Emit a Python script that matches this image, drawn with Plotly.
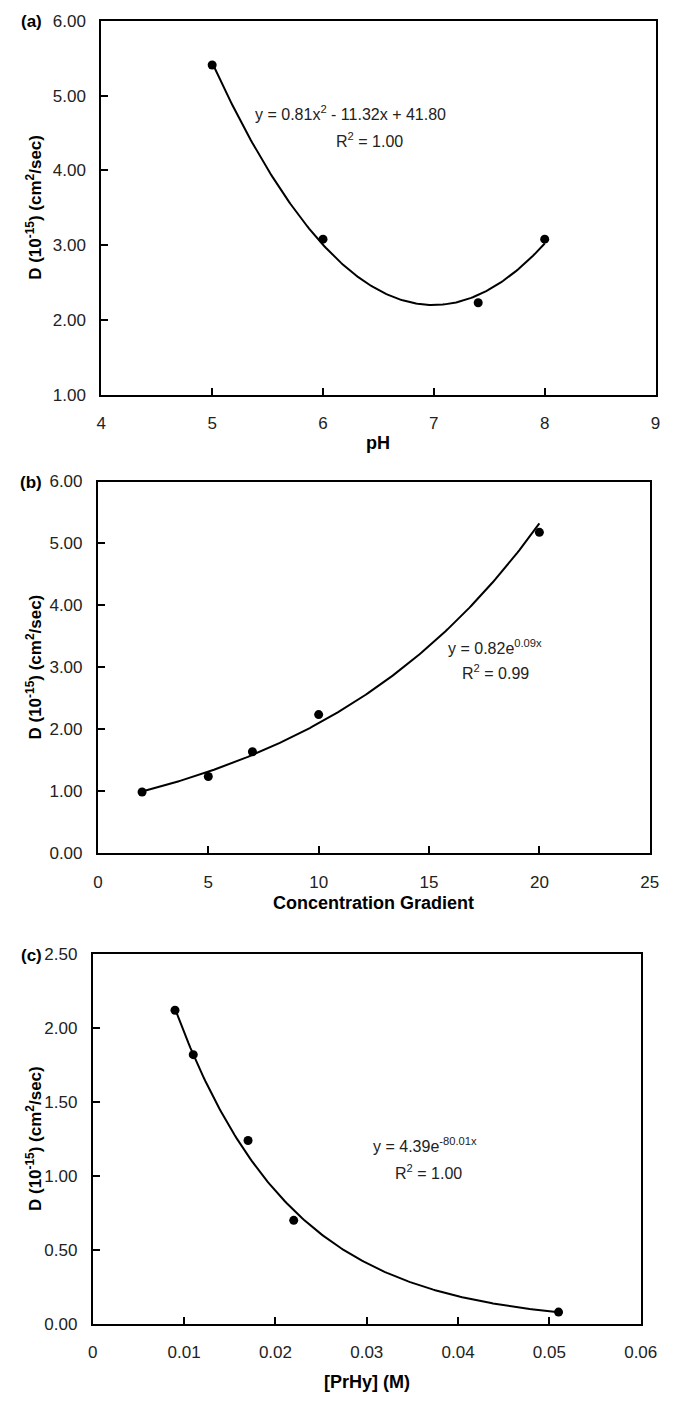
import numpy as np
import plotly.graph_objects as go

W, H = 689, 1403

# ---------------- data ----------------
ph_x = [5, 6, 7.4, 8]
ph_y = [5.41, 3.08, 2.23, 3.08]

cg_x = [2, 5, 7, 10, 20]
cg_y = [0.99, 1.24, 1.64, 2.24, 5.18]

pr_x = [0.009, 0.011, 0.017, 0.022, 0.051]
pr_y = [2.12, 1.82, 1.24, 0.70, 0.08]

a_xticks = [4, 5, 6, 7, 8, 9]
a_yticks = [1, 2, 3, 4, 5, 6]
b_xticks = [0, 5, 10, 15, 20, 25]
b_yticks = [0, 1, 2, 3, 4, 5, 6]
c_xticks = [0, 0.01, 0.02, 0.03, 0.04, 0.05, 0.06]
c_xlabels = ["0", "0.01", "0.02", "0.03", "0.04", "0.05", "0.06"]
c_yticks = [0, 0.5, 1.0, 1.5, 2.0, 2.5]

eq_a = ["y = 0.81x<sup>2</sup> - 11.32x + 41.80", "R<sup>2</sup> = 1.00"]
eq_b = ["y = 0.82e<sup>0.09x</sup>", "R<sup>2</sup> = 0.99"]
eq_c = ["y = 4.39e<sup>-80.01x</sup>", "R<sup>2</sup> = 1.00"]

# ---------------- trendlines (fitted from data, like Excel) ----------------
pa = np.polyfit(ph_x, ph_y, 2)
xa = np.linspace(min(ph_x), max(ph_x), 200)
ya = np.polyval(pa, xa)

pb = np.polyfit(cg_x, np.log(cg_y), 1)
xb = np.linspace(min(cg_x), max(cg_x), 200)
yb = np.exp(np.polyval(pb, xb))

pc = np.polyfit(pr_x, np.log(pr_y), 1)
xc = np.linspace(min(pr_x), max(pr_x), 200)
yc = np.exp(np.polyval(pc, xc))

FONT = "Liberation Sans, Arial, sans-serif"

fig = go.Figure()

def add_panel(i, px, py, cx, cy):
    xa_ = "x" if i == 1 else f"x{i}"
    ya_ = "y" if i == 1 else f"y{i}"
    fig.add_trace(go.Scatter(x=cx, y=cy, mode="lines", xaxis=xa_, yaxis=ya_,
                             line=dict(color="black", width=2), hoverinfo="skip"))
    fig.add_trace(go.Scatter(x=px, y=py, mode="markers", xaxis=xa_, yaxis=ya_,
                             marker=dict(color="black", size=9)))

add_panel(1, ph_x, ph_y, xa, ya)
add_panel(2, cg_x, cg_y, xb, yb)
add_panel(3, pr_x, pr_y, xc, yc)

# panel boxes in pixels: left, right, top, bottom
boxes = [(99.5, 672, 12, 391), (96, 666, 479, 856), (90.7, 656.7, 958, 1333)]

def xdom(b):
    return [b[0] / W, b[1] / W]

def ydom(b):
    return [1 - b[3] / H, 1 - b[2] / H]

axis_common = dict(showline=True, linecolor="black", linewidth=2, mirror=True,
                   ticks="inside", ticklen=7, tickwidth=2, tickcolor="black",
                   showgrid=False, zeroline=False,
                   tickfont=dict(family=FONT, size=17, color="#222"))

layout = dict(
    width=W, height=H, margin=dict(l=0, r=0, t=0, b=0),
    paper_bgcolor="white", plot_bgcolor="white", showlegend=False,
    font=dict(family=FONT, color="black"),
)

specs = [
    (a_xticks, [str(v) for v in a_xticks], [4, 9], a_yticks, [1, 6], "pH"),
    (b_xticks, [str(v) for v in b_xticks], [0, 25], b_yticks, [0, 6], "Concentration Gradient"),
    (c_xticks, c_xlabels, [0, 0.06], c_yticks, [0, 2.5], "[PrHy] (M)"),
]

for i, (b, sp) in enumerate(zip(boxes, specs), start=1):
    xt, xl, xr, yt, yr, xtitle = sp
    xk = "xaxis" if i == 1 else f"xaxis{i}"
    yk = "yaxis" if i == 1 else f"yaxis{i}"
    layout[xk] = dict(axis_common, domain=xdom(b), range=xr, tickvals=xt, ticktext=xl,
                      anchor="y" if i == 1 else f"y{i}", ticklabelstandoff=12)
    layout[yk] = dict(axis_common, domain=ydom(b), range=yr, tickvals=yt,
                      tickformat=".2f", anchor="x" if i == 1 else f"x{i}",
                      ticklabelstandoff=10)

fig.update_layout(**layout)

annotations = []
labels = ["(a)", "(b)", "(c)"]
title_y = [440, 906, 1392]
for i, b in enumerate(boxes):
    annotations.append(dict(text=f"<b>{labels[i]}</b>", x=27 / W, y=1 - (b[2] + 1) / H,
                            xref="paper", yref="paper", showarrow=False,
                            font=dict(size=17, family=FONT), xanchor="center", yanchor="middle"))
    annotations.append(dict(text="<b>D (10<sup>-15</sup>) (cm<sup>2</sup>/sec)</b>",
                            x=30 / W, y=1 - (b[2] + b[3]) / 2 / H, xref="paper", yref="paper",
                            showarrow=False, textangle=-90,
                            font=dict(size=17, family=FONT), xanchor="center", yanchor="middle"))
    annotations.append(dict(text=f"<b>{specs[i][5]}</b>", x=(b[0] + b[1]) / 2 / W,
                            y=1 - title_y[i] / H, xref="paper", yref="paper", showarrow=False,
                            font=dict(size=18, family=FONT), xanchor="center", yanchor="middle"))

eq_pos = [
    ("x", "y", 6.25, 6.42, 4.77, 4.41, eq_a),
    ("x2", "y2", 18.0, 18.0, 3.33, 2.93, eq_b),
    ("x3", "y3", 0.0364, 0.0368, 1.21, 1.03, eq_c),
]
for xr_, yr_, ex1, ex2, ey1, ey2, txt in eq_pos:
    annotations.append(dict(text=txt[0], x=ex1, y=ey1, xref=xr_, yref=yr_, showarrow=False,
                            font=dict(size=16, family=FONT, color="#222"),
                            xanchor="center", yanchor="middle"))
    annotations.append(dict(text=txt[1], x=ex2, y=ey2, xref=xr_, yref=yr_, showarrow=False,
                            font=dict(size=16, family=FONT, color="#222"),
                            xanchor="center", yanchor="middle"))

fig.update_layout(annotations=annotations)
fig.write_html("out.html")
